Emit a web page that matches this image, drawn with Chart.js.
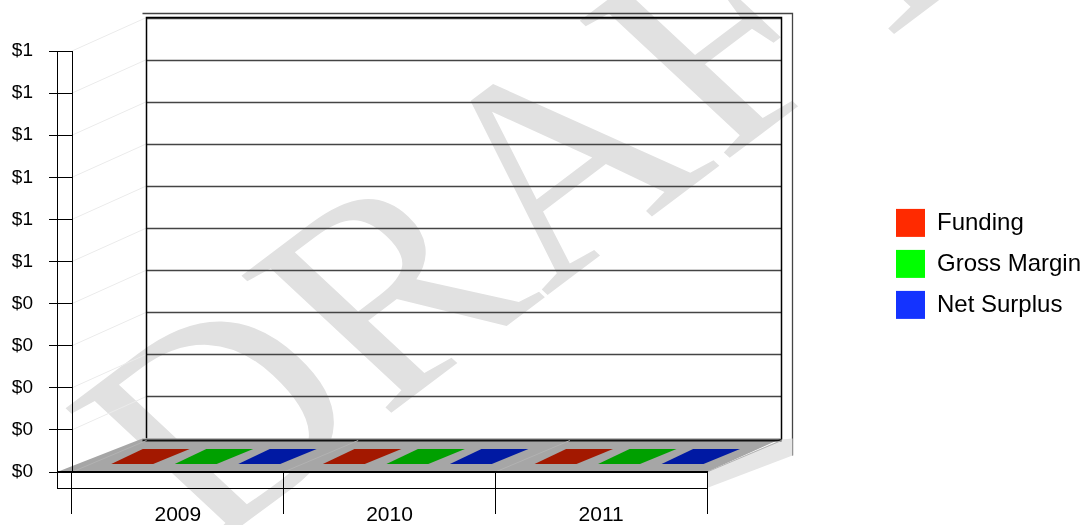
<!DOCTYPE html>
<html><head><meta charset="utf-8">
<script src="https://cdn.jsdelivr.net/npm/chart.js@4/dist/chart.umd.min.js"></script>
<style>
html,body{margin:0;padding:0;background:#fff;}
#wrap{position:relative;width:1087px;height:525px;overflow:hidden;background:#fff;}
#wm{position:absolute;left:530px;top:180px;transform:translate(-50%,-50%) rotate(-37deg) skewX(10deg);font-family:"Liberation Serif","DejaVu Serif",serif;font-size:305px;line-height:1;color:#e1e1e1;white-space:nowrap;z-index:0;}
canvas{position:absolute;left:0;top:0;z-index:1;}
</style></head><body>
<div id="wrap"><div id="wm">DRAFT</div><canvas id="c" width="1087" height="525"></canvas></div>
<script>
// ---- data ----
const categories = ['2009', '2010', '2011'];
const seriesNames = ['Funding', 'Gross Margin', 'Net Surplus'];
const funding = [0, 0, 0];
const grossMargin = [0, 0, 0];
const netSurplus = [0, 0, 0];
const yMin = 0, yMax = 1, yStep = 0.1;
const yTickLabels = ['$0', '$0', '$0', '$0', '$0', '$1', '$1', '$1', '$1', '$1', '$1'];

// ---- styles ----
const legendColors = ['#ff2a00', '#00ff00', '#1433ff'];
const floorColors = ['#a31800', '#00a000', '#0019a3'];
const FONT = "'Liberation Sans', Arial, sans-serif";
const DX = 74.5, DY = -33.5;

const threeD = {
  id: 'threeD',
  beforeDraw(chart) {
    const ctx = chart.ctx;
    const {left: l, top: t, right: r, bottom: b} = chart.chartArea;
    const y = chart.scales.y, x = chart.scales.x;
    ctx.save();
    // faint connectors from front ticks to back wall
    ctx.strokeStyle = '#ebebeb'; ctx.lineWidth = 1;
    y.ticks.forEach((tk) => {
      const py = y.getPixelForValue(tk.value);
      ctx.beginPath(); ctx.moveTo(l, py); ctx.lineTo(l + DX, py + DY); ctx.stroke();
    });
    // outer frame (wall thickness)
    ctx.strokeStyle = '#444'; ctx.lineWidth = 1.3;
    ctx.beginPath();
    ctx.moveTo(l + DX - 4, t + DY - 4);
    ctx.lineTo(r + DX + 11, t + DY - 4);
    ctx.lineTo(r + DX + 11, b + DY + 17);
    ctx.stroke();
    // back wall gridlines
    ctx.strokeStyle = '#444'; ctx.lineWidth = 1.4;
    y.ticks.forEach((tk) => {
      const py = Math.round(y.getPixelForValue(tk.value) + DY) + 0.5;
      ctx.beginPath(); ctx.moveTo(l + DX, py); ctx.lineTo(r + DX, py); ctx.stroke();
    });
    // back wall border
    ctx.strokeStyle = '#000'; ctx.lineWidth = 1.5;
    ctx.beginPath();
    ctx.moveTo(l + DX, b + DY); ctx.lineTo(l + DX, t + DY); ctx.lineTo(r + DX, t + DY); ctx.lineTo(r + DX, b + DY + 17);
    ctx.stroke();
    // floor top
    ctx.fillStyle = '#a6a6a6';
    ctx.beginPath();
    ctx.moveTo(l - 15, b); ctx.lineTo(r, b); ctx.lineTo(r + DX, b + DY); ctx.lineTo(l + DX - 4, b + DY);
    ctx.closePath(); ctx.fill();
    // floor right face
    ctx.fillStyle = '#e6e6e6';
    ctx.beginPath();
    ctx.moveTo(r, b); ctx.lineTo(r + DX, b + DY + 1); ctx.lineTo(r + DX + 11, b + DY); ctx.lineTo(r + DX + 11, b + DY + 17); ctx.lineTo(r, b + 16);
    ctx.closePath(); ctx.fill();
    // floor back edge
    ctx.strokeStyle = '#111'; ctx.lineWidth = 2;
    ctx.beginPath(); ctx.moveTo(l + DX - 4, b + DY + 2); ctx.lineTo(r + DX, b + DY + 2); ctx.stroke();
    // faint floor lines from category boundaries
    ctx.strokeStyle = '#b2b2b2'; ctx.lineWidth = 1;
    for (let i = 0; i <= categories.length; i++) {
      const px = x.getPixelForValue(i - 0.5);
      ctx.beginPath(); ctx.moveTo(px, b); ctx.lineTo(px + DX, b + DY + 2); ctx.stroke();
    }
    // floor bars (value 0 -> flat on the floor)
    const f1 = 0.24, f2 = 0.69;
    chart.data.datasets.forEach((ds, di) => {
      const meta = chart.getDatasetMeta(di);
      meta.data.forEach((el) => {
        const w = el.width, x0 = el.x - w / 2, x1 = el.x + w / 2, base = el.y;
        ctx.fillStyle = floorColors[di];
        ctx.beginPath();
        ctx.moveTo(x0 + DX * f1, base + DY * f1);
        ctx.lineTo(x1 + DX * f1, base + DY * f1);
        ctx.lineTo(x1 + DX * f2 + 3, base + DY * f2);
        ctx.lineTo(x0 + DX * f2 - 2, base + DY * f2);
        ctx.closePath(); ctx.fill();
      });
    });
    ctx.restore();
  },
  afterDraw(chart) {
    const ctx = chart.ctx;
    const {left: l, top: t, right: r, bottom: b} = chart.chartArea;
    ctx.save();
    ctx.strokeStyle = '#000'; ctx.lineWidth = 1;
    ctx.beginPath();
    ctx.moveTo(l - 15 + 0.5, t); ctx.lineTo(l - 15 + 0.5, b + 16);
    ctx.moveTo(l - 15, t + 0.5); ctx.lineTo(l, t + 0.5);
    ctx.moveTo(l - 15, Math.round(b + 16) + 0.5); ctx.lineTo(r, Math.round(b + 16) + 0.5);
    ctx.stroke();
    ctx.lineWidth = 2;
    ctx.beginPath(); ctx.moveTo(l - 15, b); ctx.lineTo(r, b); ctx.stroke();
    ctx.restore();
  }
};

const ds = [funding, grossMargin, netSurplus].map((vals, i) => ({
  label: seriesNames[i],
  data: vals,
  backgroundColor: legendColors[i],
  borderColor: legendColors[i],
  borderWidth: 0
}));

new Chart(document.getElementById('c'), {
  type: 'bar',
  data: {labels: categories, datasets: ds},
  options: {
    responsive: false,
    animation: false,
    devicePixelRatio: 1,
    layout: {padding: {left: 0, top: 51, right: 6, bottom: 0}},
    datasets: {bar: {categoryPercentage: 0.9, barPercentage: 0.66}},
    plugins: {
      legend: {
        position: 'right',
        fullSize: false,
        maxWidth: 198,
        title: {display: true, text: '', padding: 0, font: {size: 4}},
        labels: {boxWidth: 29, boxHeight: 28, padding: 13, color: '#000', font: {family: FONT, size: 24}}
      },
      tooltip: {enabled: false}
    },
    scales: {
      x: {
        grid: {display: true, drawOnChartArea: false, drawTicks: true, tickLength: 42, color: '#000', lineWidth: 1},
        border: {display: true, color: '#000', width: 2},
        ticks: {padding: -11, color: '#000', font: {family: FONT, size: 21}, maxRotation: 0},
        afterFit: (a) => { a.height = 53; }
      },
      y: {
        min: yMin, max: yMax,
        grid: {drawOnChartArea: false, tickLength: 23, color: '#000', lineWidth: 1},
        border: {display: true, color: '#000', width: 1},
        ticks: {stepSize: yStep, padding: 16, color: '#000', font: {family: FONT, size: 19},
          callback: (v, i) => yTickLabels[i]},
        afterFit: (a) => { a.width = 72; }
      },
      spacer: {
        position: 'right', display: true,
        grid: {display: false}, border: {display: false}, ticks: {display: false},
        afterFit: (a) => { a.width = 176; }
      }
    }
  },
  plugins: [threeD]
});
</script>
</body></html>
